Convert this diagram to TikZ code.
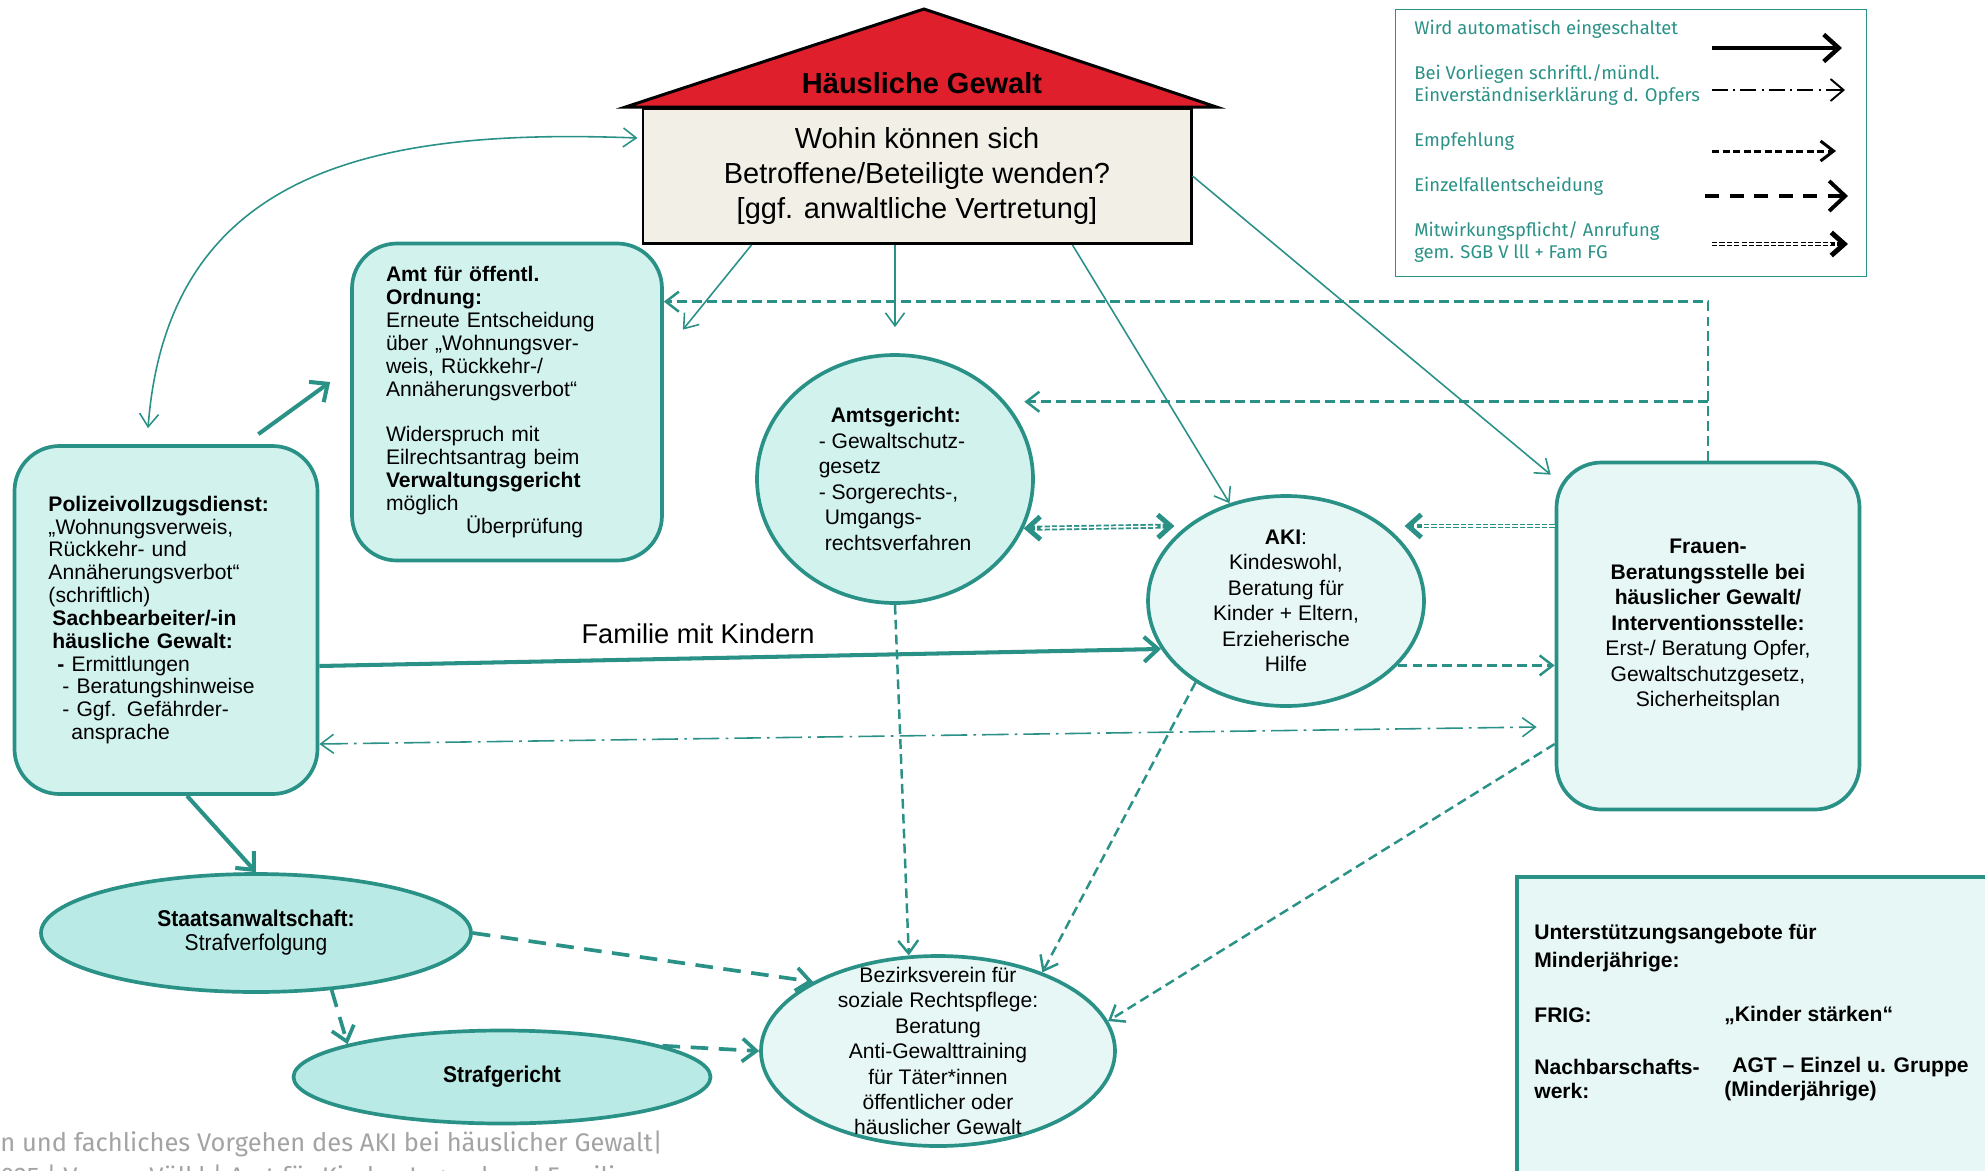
\documentclass[tikz,border=0pt]{standalone}
\usepackage{fontspec}
\setmainfont{Liberation Sans}
\newfontfamily\legendfont{Fira Sans}
\newfontfamily\schmalfont[FakeStretch=0.92]{Liberation Sans}
\usepackage{xcolor}
\usepackage{tikz}
\usetikzlibrary{arrows.meta,calc,shapes.geometric,positioning}

\definecolor{hgteal}{HTML}{2A9187}
\definecolor{hgmint}{HTML}{D2F2EE}
\definecolor{hghell}{HTML}{E7F7F5}
\definecolor{hgoval}{HTML}{B9EAE5}
\definecolor{hgrot}{HTML}{E01F2D}
\definecolor{hgcreme}{HTML}{F2F0E6}
\definecolor{hggrau}{HTML}{A3A3A3}

\tikzset{HG style/.style={x=0.2mm,y=-0.2mm,every node/.append style={inner sep=0pt,font=\fontsize{12}{14.5}\selectfont}},
	kasten/.style={draw=hgteal,line width=2.1pt,rounded corners=9mm,fill=hgmint},
	oval/.style={ellipse,draw=hgteal,line width=2.1pt,fill=hghell},
	auto pfeil/.style={color=hgteal,line width=0.9pt,-{Straight Barb[length=2.6mm,width=3.8mm]}},
	stark pfeil/.style={color=hgteal,line width=2.3pt,-{Straight Barb[length=2.8mm,width=5mm]}},
	empf pfeil/.style={color=hgteal,line width=1.4pt,dash pattern=on 5.5pt off 3pt,-{Straight Barb[length=2.6mm,width=4mm]}},
	einzel pfeil/.style={color=hgteal,line width=2.1pt,dash pattern=on 10pt off 6pt,-{Straight Barb[length=2.8mm,width=4.6mm]}},
	einv pfeil/.style={color=hgteal,line width=0.9pt,dash pattern=on 15pt off 3.5pt on 1.5pt off 3.5pt,{Straight Barb[length=2.6mm,width=3.8mm]}-{Straight Barb[length=2.6mm,width=3.8mm]}},
	mitw pfeil/.style={color=hgteal,line width=2.8pt,dash pattern=on 3pt off 1.2pt,-{Straight Barb[length=2.6mm,width=4.6mm]},
		postaction={draw=white,solid,line width=0.8pt,-,shorten >=3.4mm}},
	mitw doppel/.style={color=hgteal,line width=2.8pt,dash pattern=on 3pt off 1.2pt,{Straight Barb[length=2.6mm,width=4.6mm]}-{Straight Barb[length=2.6mm,width=4.6mm]},
		postaction={draw=white,solid,line width=0.8pt,-,shorten >=3.4mm,shorten <=3.4mm}}}

\begin{document}
\begin{tikzpicture}[HG style]
	\tikzstyle{legtext}=[anchor=west,align=left,text=hgteal,font=\legendfont\fontsize{10.5}{12.2}\selectfont]
	\tikzstyle{hilfetext}=[anchor=west,align=left,font=\bfseries\fontsize{12}{13.6}\selectfont]
	\useasboundingbox (0,0) rectangle (1985,1170);

	% Haus
	\node[draw=black,line width=1.7pt,fill=hgcreme,minimum width=109.6mm,minimum height=27mm,align=center,
		font=\fontsize{16.5}{19.8}\selectfont] (frage) at (917,176)
		{Wohin können sich\\Betroffene/Beteiligte wenden?\\{[ggf. anwaltliche Vertretung]}};
	\draw[fill=hgrot,line width=1.7pt] ($(frage.north west)+(-16,0)$) -- ($(frage.north)+(7,-98)$)
		-- ($(frage.north east)+(24,0)$) -- cycle;
	\node[font=\bfseries\fontsize{16.5}{19}\selectfont] (titel) at ($(frage.north)+(5,-24)$) {Häusliche Gewalt};

	% Legende
	\node[draw=hgteal,line width=0.8pt,minimum width=94.2mm,minimum height=53.4mm] (legende) at (1631,143) {};
	\node[legtext] (l1) at (1414,29) {Wird automatisch eingeschaltet};
	\node[legtext] (l2) at (1414,85) {Bei Vorliegen schriftl./mündl.\\Einverständniserklärung d. Opfers};
	\node[legtext] (l3) at (1414,142) {Empfehlung};
	\node[legtext] (l4) at (1414,186) {Einzelfallentscheidung};
	\node[legtext] (l5) at (1414,242) {Mitwirkungspflicht/ Anrufung\\gem. SGB V lll + Fam FG};
	\draw[stark pfeil,draw=black,line width=2.5pt,-{Straight Barb[length=3mm,width=5.4mm]}] (1712,48) -- (1842,48);
	\draw[einv pfeil,draw=black,line width=1.1pt,dash pattern=on 9pt off 3pt on 1.2pt off 3pt,-{Straight Barb[length=2.6mm,width=4.4mm]}] (1712,90) -- (1845,90);
	\draw[empf pfeil,draw=black,line width=1.7pt,dash pattern=on 4pt off 2pt] (1712,151) -- (1836,151);
	\draw[einzel pfeil,draw=black,line width=2.2pt,dash pattern=on 8pt off 6pt,-{Straight Barb[length=3.2mm,width=6mm]}] (1705,196) -- (1848,196);
	\draw[mitw pfeil,draw=black] (1712,244) -- (1848,244);

	% Stellen
	\node[kasten,align=left,text width=47mm,inner xsep=6.8mm,minimum width=60.6mm,minimum height=69.6mm,
		font=\fontsize{12}{13}\selectfont] (pol) at (166,620)
		{\textbf{Polizeivollzugsdienst:}\\
		„Wohnungsverweis,\\
		Rückkehr- und\\
		Annäherungsverbot“\\
		(schriftlich)\\
		\hspace*{0.8mm}\textbf{Sachbearbeiter/-in}\\
		\hspace*{0.8mm}\textbf{häusliche Gewalt:}\\
		\hspace*{1.8mm}\textbf{-} Ermittlungen\\
		\hspace*{2.8mm}- Beratungshinweise\\
		\hspace*{2.8mm}- Ggf. Gefährder-\\
		\hspace*{4.6mm}ansprache};
	\node[kasten,align=left,text width=48.4mm,inner xsep=6.8mm,minimum width=62mm,minimum height=63.4mm,
		font=\fontsize{12}{13}\selectfont] (amt) at (507,402)
		{\textbf{Amt für öffentl.}\\
		\textbf{Ordnung:}\\
		Erneute Entscheidung\\
		über „Wohnungsver-\\
		weis, Rückkehr-/\\
		Annäherungsverbot“\\[13pt]
		Widerspruch mit\\
		Eilrechtsantrag beim\\
		\textbf{Verwaltungsgericht}\\
		möglich\\
		\hspace*{16mm}Überprüfung};
	\node[oval,fill=hgmint,minimum width=55.2mm,minimum height=49.6mm,align=left] (ag) at (895,479)
		{\hspace*{2.4mm}\textbf{Amtsgericht:}\\
		- Gewaltschutz-\\
		gesetz\\
		- Sorgerechts-,\\
		\hspace*{1.2mm}Umgangs-\\
		\hspace*{1.2mm}rechtsverfahren};
	\node[oval,minimum width=55.2mm,minimum height=42mm,align=center] (aki) at (1286,601)
		{\textbf{AKI}:\\Kindeswohl,\\Beratung für\\Kinder + Eltern,\\Erzieherische\\Hilfe};
	\node[kasten,fill=hghell,minimum width=60.6mm,minimum height=69.4mm,align=center,text depth=15pt] (frauen) at (1708,636)
		{\textbf{Frauen-}\\\textbf{Beratungsstelle bei}\\\textbf{häuslicher Gewalt/}\\\textbf{Interventionsstelle:}\\
		Erst-/ Beratung Opfer,\\Gewaltschutzgesetz,\\Sicherheitsplan};
	\node[oval,fill=hgoval,minimum width=86mm,minimum height=23.6mm,align=center,
		font=\schmalfont\fontsize{13}{13.6}\selectfont] (sta) at (256,933)
		{\textbf{Staatsanwaltschaft:}\\Strafverfolgung};
	\node[oval,fill=hgoval,minimum width=83.4mm,minimum height=18.6mm,
		font=\schmalfont\bfseries\fontsize{13}{13.6}\selectfont] (strg) at (502,1077) {Strafgericht};
	\node[oval,minimum width=70.8mm,minimum height=38mm] (bzv) at (938,1051) {};
	\node[align=center] (bzvtext) at (bzv.center)
		{Bezirksverein für\\soziale Rechtspflege:\\Beratung\\Anti-Gewalttraining\\für Täter*innen\\öffentlicher oder\\häuslicher Gewalt};

	% Unterstuetzung
	\node[draw=hgteal,line width=2.3pt,fill=hghell,anchor=north west,minimum width=97mm,minimum height=63mm] (hilfe) at (1515,875) {};
	\node[hilfetext,font=\bfseries\fontsize{12}{16.4}\selectfont] (hilfetitel) at ($(hilfe.north west)+(19,73)$) {Unterstützungsangebote für\\Minderjährige:};
	\node[hilfetext] (frig) at ($(hilfe.north west)+(19,140)$) {FRIG:};
	\node[hilfetext] (frigtext) at ($(hilfe.north west)+(209,140)$) {„Kinder stärken“};
	\node[hilfetext] (nbw) at ($(hilfe.north west)+(19,204)$) {Nachbarschafts-\\werk:};
	\node[hilfetext] (nbwtext) at ($(hilfe.north west)+(209,204)$) {\hspace*{1.6mm}AGT – Einzel u. Gruppe\\(Minderjährige)};

	% Fusszeile
	\node[anchor=west,text=hggrau,font=\legendfont\fontsize{14.5}{17}\selectfont] (fuss1) at (0,1144) {n und fachliches Vorgehen des AKI bei häuslicher Gewalt|};
	\node[anchor=west,text=hggrau,font=\legendfont\fontsize{14.5}{17}\selectfont] (fuss2) at (0,1178) {025 | Verena Völkl | Amt für Kinder, Jugend und Familie};

	% wird automatisch eingeschaltet
	\draw[auto pfeil,{Straight Barb[length=2.6mm,width=3.8mm]}-{Straight Barb[length=2.6mm,width=3.8mm]}]
		($(pol.north)+(-18,-16)$) .. controls +(20,-260) and +(-260,-10) .. ($(frage.north west)+(-4,31)$);

	\path[auto pfeil]
	($(frage.south west)+(110,0)$) edge ($(amt.north east)+(19,88)$)
	(frage.south -| ag.north) edge ($(ag.north)+(0,-26)$)
	($(frage.south west)+(431,0)$) edge (aki.120)
	(frage.east) edge ($(frauen.north west)+(-4,14)$)
	;

	\path[stark pfeil]
	($(pol.north east)+(-61,-10)$) edge ($(amt.west)+(-20,-20)$)
	($(pol.south)+(21,0)$) edge (sta.north)
	($(pol.east)+(0,46)$) edge node[pos=0.45,above=2.5mm,text=black,font=\fontsize{15.5}{18}\selectfont] (familie) {Familie mit Kindern} (aki.201)
	;

	% Empfehlung
	\coordinate (knick) at ($(frauen.north)+(0,-159)$);
	\draw[empf pfeil] (frauen.north) -- (knick) -- (knick -| amt.east);
	\draw[empf pfeil,shorten >=3.8mm] (frauen.north |- ag.35) -- (ag.35);

	\path[empf pfeil]
	(aki.-30) edge (frauen.west |- aki.-30)
	(ag.south) edge (bzv.107)
	(aki.222) edge (bzv.37)
	($(frauen.west)+(0,108)$) edge (bzv.10)
	;

	% Einverstaendnis, Mitwirkung
	\draw[einv pfeil] ($(pol.east)+(0,124)$) -- ($(frauen.west)+(-18,91)$);
	\draw[mitw doppel] (ag.-21) -- ($(aki.143)+(-12,0)$);
	\draw[mitw pfeil] (frauen.west |- aki.37) -- ($(aki.37)+(19,0)$);

	% Einzelfall
	\path[einzel pfeil]
	(sta.east) edge (bzv.151)
	(sta.-37) edge (strg.168)
	(strg.11) edge (bzv.west)
	;
\end{tikzpicture}
\end{document}
